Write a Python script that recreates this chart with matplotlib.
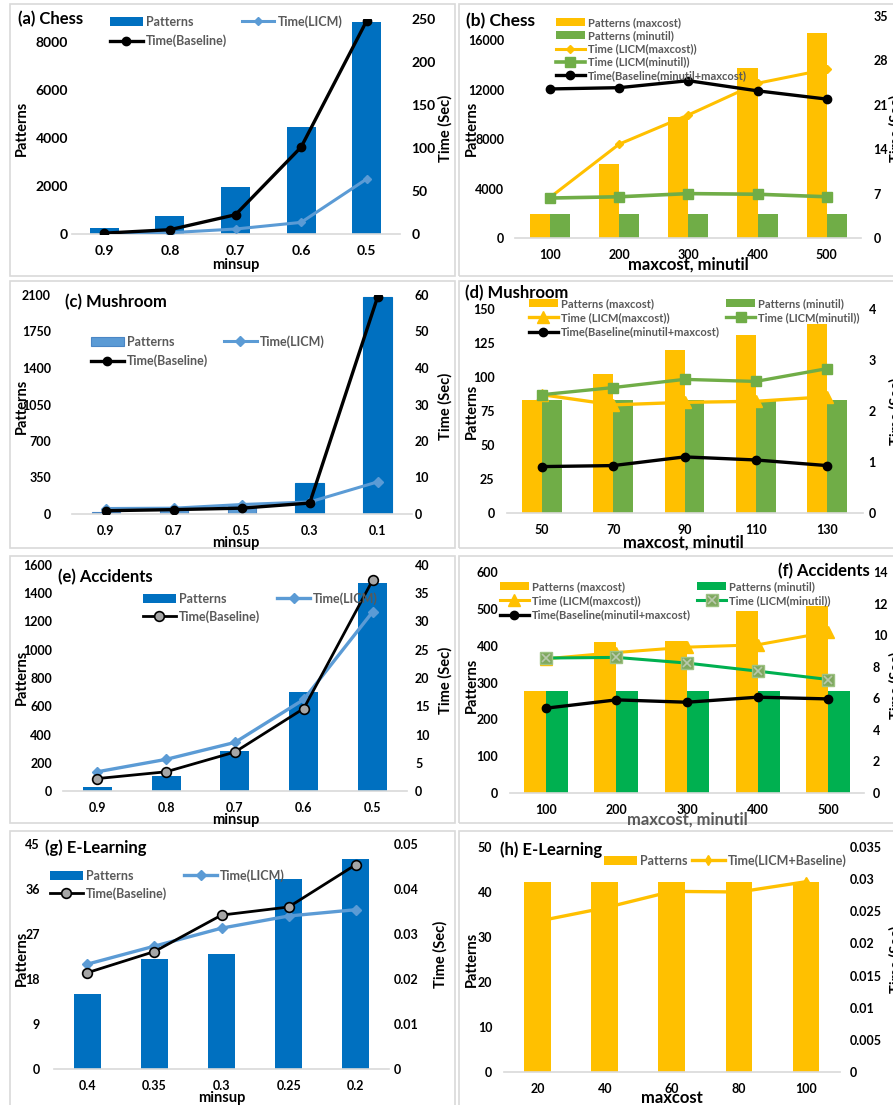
import matplotlib.pyplot as plt
from matplotlib.patches import Rectangle, Patch
from matplotlib.lines import Line2D
import numpy as np

W, H = 893, 1105
plt.rcParams['font.family'] = ['Lato', 'DejaVu Sans']
plt.rcParams['font.weight'] = 'bold'

BLUE = '#0070C0'
LBLUE = '#5B9BD5'
YEL = '#FFC000'
GRN = '#70AD47'
GRN2 = '#00B050'
GRAY = '#595959'

# --- data ---
# (a) Chess, minsup
x_a = ['0.9', '0.8', '0.7', '0.6', '0.5']
pat_a = [236, 750, 1972, 4486, 8861]
licm_a = [1.0, 1.5, 5.8, 13.5, 64]
base_a = [1.0, 5.0, 22.4, 101, 248]

# (b) Chess, maxcost/minutil
x_b = ['100', '200', '300', '400', '500']
pat_max_b = [1962, 5995, 9758, 13790, 16613]
pat_min_b = [1962, 1962, 1962, 1962, 1962]
licm_max_b = [6.4, 14.8, 19.4, 24.4, 26.6]
licm_min_b = [6.3, 6.5, 7.0, 6.9, 6.5]
base_b = [23.5, 23.7, 24.8, 23.2, 21.9]

# (c) Mushroom, minsup
x_c = ['0.9', '0.7', '0.5', '0.3', '0.1']
pat_c = [19, 42, 74, 298, 2084]
licm_c = [1.5, 1.6, 2.6, 3.3, 8.8]
base_c = [0.9, 1.2, 1.6, 3.0, 59.5]

# (d) Mushroom, maxcost/minutil
x_d = ['50', '70', '90', '110', '130']
pat_max_d = [83, 102, 120, 131, 139]
pat_min_d = [83, 83, 83, 83, 83]
licm_max_d = [2.32, 2.12, 2.17, 2.19, 2.28]
licm_min_d = [2.32, 2.46, 2.62, 2.58, 2.83]
base_d = [0.91, 0.93, 1.10, 1.04, 0.93]

# (e) Accidents, minsup
x_e = ['0.9', '0.8', '0.7', '0.6', '0.5']
pat_e = [31, 109, 282, 700, 1470]
licm_e = [3.4, 5.6, 8.6, 16.2, 31.7]
base_e = [2.2, 3.4, 6.9, 14.6, 37.3]

# (f) Accidents, maxcost/minutil
x_f = ['100', '200', '300', '400', '500']
pat_max_f = [278, 411, 414, 493, 509]
pat_min_f = [278, 278, 278, 278, 278]
licm_max_f = [8.5, 8.9, 9.24, 9.39, 10.2]
licm_min_f = [8.55, 8.59, 8.23, 7.72, 7.19]
base_f = [5.37, 5.9, 5.75, 6.07, 5.96]

# (g) E-Learning, minsup
x_g = ['0.4', '0.35', '0.3', '0.25', '0.2']
pat_g = [15.1, 22.1, 23.1, 38.1, 42.1]
licm_g = [0.0233, 0.0273, 0.0313, 0.0340, 0.0354]
base_g = [0.0214, 0.0261, 0.0342, 0.0360, 0.0454]

# (h) E-Learning, maxcost
x_h = ['20', '40', '60', '80', '100']
pat_h = [42.2, 42.2, 42.2, 42.2, 42.2]
time_h = [0.02345, 0.02553, 0.0281, 0.0280, 0.0296]

fig = plt.figure(figsize=(W / 100, H / 100), dpi=100)


def px(v):
    # pixels -> points
    return v * 0.72


def ftext(x, y, s, **kw):
    fig.text(x / W, 1 - y / H, s, **kw)


def box(x0, y0, x1, y1):
    fig.patches.append(Rectangle((x0 / W, 1 - y1 / H), (x1 - x0) / W, (y1 - y0) / H,
                                 transform=fig.transFigure, fill=False,
                                 ec='#d9d9d9', lw=1.2))


def panel(rect, xlabels, ylim, yticks, ylim2, yticks2, fs, lpad, rpad, fmt2=None):
    x0, x1, yt, yb = rect
    ax = fig.add_axes([x0 / W, 1 - yb / H, (x1 - x0) / W, (yb - yt) / H])
    ax2 = ax.twinx()
    for a in (ax, ax2):
        for s in a.spines.values():
            s.set_visible(False)
    ax.spines['bottom'].set_visible(True)
    ax.spines['bottom'].set_color('#d9d9d9')
    ax.spines['bottom'].set_linewidth(1.2)
    ax.set_xlim(-0.5, 4.5)
    ax.set_xticks(range(5))
    ax.set_xticklabels(xlabels)
    ax.set_ylim(*ylim)
    ax.set_yticks(yticks)
    ax2.set_ylim(*ylim2)
    ax2.set_yticks(yticks2)
    if fmt2:
        ax2.set_yticklabels([fmt2(v) for v in yticks2])
    ax.tick_params(axis='x', length=0, labelsize=fs, pad=px(11))
    ax.tick_params(axis='y', length=0, labelsize=fs, pad=px(lpad))
    ax2.tick_params(axis='y', length=0, labelsize=fs, pad=px(rpad))
    return ax, ax2


def legend(ax, handles, labels, x, y, ncol, fs, colsp=1.0, lsp=0.5):
    ax.legend(handles, labels, loc='upper left', bbox_to_anchor=(x / W, 1 - y / H),
              bbox_transform=fig.transFigure, ncol=ncol, frameon=False,
              borderpad=0, borderaxespad=0, handlelength=2.6, handletextpad=0.25,
              columnspacing=colsp, labelspacing=lsp, labelcolor=GRAY,
              prop={'size': fs, 'weight': 'bold'})


# panel borders
for (bx0, bx1) in [(10, 455), (459, 905)]:
    for (by0, by1) in [(4, 276), (281, 548), (556, 823), (831, 1110)]:
        box(bx0, by0, bx1, by1)

idx = np.arange(5)

# ---------------- (a) ----------------
ax, ax2 = panel((71.5, 399.5, 19, 234), x_a, (0, 8972), [0, 2000, 4000, 6000, 8000],
                (0, 250), [0, 50, 100, 150, 200, 250], 10, 3.5, 12)
b1 = ax.bar(idx, pat_a, 0.44, color=BLUE)
l1, = ax2.plot(idx, licm_a, color=LBLUE, lw=2.2, marker='D', ms=4)
l2, = ax2.plot(idx, base_a, color='black', lw=2.4, marker='o', ms=6)
legend(ax2, [b1, l2, l1], ['Patterns', 'Time(Baseline)', 'Time(LICM)'], 110, 15, 2, 9, 1.2, 0.55)
ftext(18, 19, '(a) Chess', fontsize=12, va='center')
ftext(22, 128, 'Patterns', fontsize=10.5, rotation=90, ha='center', va='center')
ftext(445, 128, 'Time (Sec)', fontsize=10.5, rotation=90, ha='center', va='center')
ftext(236, 265, 'minsup', fontsize=10.5, ha='center', va='center')

# ---------------- (b) ----------------
ax, ax2 = panel((515.4, 861.3, 16, 238), x_b, (0, 17960), [0, 4000, 8000, 12000, 16000],
                (0, 35), [0, 7, 14, 21, 28, 35], 9, 11, 12)
b1 = ax.bar(idx - 0.145, pat_max_b, 0.29, color=YEL)
b2 = ax.bar(idx + 0.145, pat_min_b, 0.29, color=GRN)
l1, = ax2.plot(idx, licm_max_b, color=YEL, lw=2.2, marker='D', ms=4)
l2, = ax2.plot(idx, licm_min_b, color=GRN, lw=2.6, marker='s', ms=7)
l3, = ax2.plot(idx, base_b, color='black', lw=2.4, marker='o', ms=6)
legend(ax2, [b1, b2, l1, l2, l3],
       ['Patterns (maxcost)', 'Patterns (minutil)', 'Time (LICM(maxcost))',
        'Time (LICM(minutil))', 'Time(Baseline(minutil+maxcost)'], 556, 17, 1, 8, 1.0, 0.2)
ftext(466, 21, '(b) Chess', fontsize=12.5, va='center')
ftext(472, 128, 'Patterns', fontsize=10.5, rotation=90, ha='center', va='center')
ftext(896, 128, 'Time (Sec)', fontsize=10.5, rotation=90, ha='center', va='center')
ftext(688, 265, 'maxcost, minutil', fontsize=12, ha='center', va='center')

# ---------------- (c) ----------------
ax, ax2 = panel((72, 411.6, 295, 514), x_c, (0, 2100), [0, 350, 700, 1050, 1400, 1750, 2100],
                (0, 60), [0, 10, 20, 30, 40, 50, 60], 9, 21, 3)
b1 = ax.bar(idx, pat_c, 0.42, color=[LBLUE, LBLUE, LBLUE, BLUE, BLUE],
            edgecolor=['#4a86c5', '#4a86c5', '#4a86c5', BLUE, BLUE], lw=0.8)
l1, = ax2.plot(idx, licm_c, color=LBLUE, lw=2.2, marker='D', ms=5)
l2, = ax2.plot(idx, base_c, color='black', lw=2.4, marker='o', ms=6)
legend(ax2, [b1, l2, l1], ['Patterns', 'Time(Baseline)', 'Time(LICM)'], 91, 335, 2, 9, 1.3, 0.55)
ftext(65, 302, '(c) Mushroom', fontsize=12, va='center')
ftext(22, 406, 'Patterns', fontsize=10.5, rotation=90, ha='center', va='center')
ftext(445, 406, 'Time (Sec)', fontsize=10.5, rotation=90, ha='center', va='center')
ftext(236, 543, 'minsup', fontsize=10.5, ha='center', va='center')

# ---------------- (d) ----------------
ax, ax2 = panel((506.5, 862.5, 309, 513), x_d, (0, 150), [0, 25, 50, 75, 100, 125, 150],
                (0, 4), [0, 1, 2, 3, 4], 9, 12, 6)
b1 = ax.bar(idx - 0.14, pat_max_d, 0.28, color=YEL)
b2 = ax.bar(idx + 0.14, pat_min_d, 0.28, color=GRN)
l1, = ax2.plot(idx, licm_max_d, color=YEL, lw=2.4, marker='^', ms=8)
l2, = ax2.plot(idx, licm_min_d, color=GRN, lw=2.4, marker='s', ms=7)
l3, = ax2.plot(idx, base_d, color='black', lw=2.4, marker='o', ms=6)
legend(ax2, [b1, l1, l3, b2, l2],
       ['Patterns (maxcost)', 'Time (LICM(maxcost))', 'Time(Baseline(minutil+maxcost)',
        'Patterns (minutil)', 'Time (LICM(minutil))'], 529, 298, 2, 8, 0.6, 0.3)
ftext(465, 293, '(d) Mushroom', fontsize=12, va='center')
ftext(472, 411, 'Patterns', fontsize=10.5, rotation=90, ha='center', va='center')
ftext(896, 411, 'Time (Sec)', fontsize=10.5, rotation=90, ha='center', va='center')
ftext(683, 543, 'maxcost, minutil', fontsize=12, ha='center', va='center')

# ---------------- (e) ----------------
ax, ax2 = panel((62.9, 407, 565, 791), x_e, (0, 1600), [0, 200, 400, 600, 800, 1000, 1200, 1400, 1600],
                (0, 40), [0, 5, 10, 15, 20, 25, 30, 35, 40], 9, 11, 8)
b1 = ax.bar(idx, pat_e, 0.42, color=BLUE)
l1, = ax2.plot(idx, licm_e, color=LBLUE, lw=2.4, marker='D', ms=5)
l2, = ax2.plot(idx, base_e, color='black', lw=2.0, marker='o', ms=7,
               mfc='#a6a6a6', mec='black', mew=1.2)
legend(ax2, [b1, l2, l1], ['Patterns', 'Time(Baseline)', 'Time(LICM)'], 143, 592, 2, 9, 1.4, 0.45)
ftext(58, 577, '(e) Accidents', fontsize=12, va='center')
ftext(22, 677, 'Patterns', fontsize=10.5, rotation=90, ha='center', va='center')
ftext(445, 680, 'Time (Sec)', fontsize=10.5, rotation=90, ha='center', va='center')
ftext(236, 820, 'minsup', fontsize=10.5, ha='center', va='center')

# ---------------- (f) ----------------
ax, ax2 = panel((510.3, 863.7, 572, 793), x_f, (0, 600), [0, 100, 200, 300, 400, 500, 600],
                (0, 14), [0, 2, 4, 6, 8, 10, 12, 14], 9, 12, 9)
b1 = ax.bar(idx - 0.155, pat_max_f, 0.31, color=YEL)
b2 = ax.bar(idx + 0.155, pat_min_f, 0.31, color=GRN2)
l1, = ax2.plot(idx, licm_max_f, color=YEL, lw=2.2, marker='^', ms=8)
l2, = ax2.plot(idx, licm_min_f, color=GRN2, lw=2.2, marker='s', ms=8,
               mfc='#7fa85f', mec='#9dc283')
l2x, = ax2.plot(idx, licm_min_f, ls='none', marker='x', ms=6, color='#b9c9ad', mew=1.2)
l3, = ax2.plot(idx, base_f, color='black', lw=2.4, marker='o', ms=6)
legend(ax2, [b1, l1, l3, b2, (l2, l2x)],
       ['Patterns (maxcost)', 'Time (LICM(maxcost))', 'Time(Baseline(minutil+maxcost)',
        'Patterns (minutil)', 'Time (LICM(minutil))'], 500, 581, 2, 8, 0.6, 0.3)
ftext(870, 571, '(f) Accidents', fontsize=12, ha='right', va='center')
ftext(472, 685, 'Patterns', fontsize=10.5, rotation=90, ha='center', va='center')
ftext(896, 685, 'Time (Sec)', fontsize=10.5, rotation=90, ha='center', va='center')
ftext(687, 820, 'maxcost, minutil', fontsize=12, ha='center', va='center', color=GRAY)

# ---------------- (g) ----------------
ax, ax2 = panel((53.8, 389.3, 844, 1069), x_g, (0, 45), [0, 9, 18, 27, 36, 45],
                (0, 0.05), [0, 0.01, 0.02, 0.03, 0.04, 0.05], 9, 14, 4,
                fmt2=lambda v: '0' if v == 0 else f'{v:g}')
b1 = ax.bar(idx, pat_g, 0.40, color=BLUE)
l1, = ax2.plot(idx, licm_g, color=LBLUE, lw=2.4, marker='D', ms=5)
l2, = ax2.plot(idx, base_g, color='black', lw=2.0, marker='o', ms=7,
               mfc='#a6a6a6', mec='black', mew=1.2)
legend(ax2, [b1, l2, l1], ['Patterns', 'Time(Baseline)', 'Time(LICM)'], 50, 869, 2, 9, 1.4, 0.45)
ftext(45, 848, '(g) E-Learning', fontsize=12, va='center')
ftext(22, 958, 'Patterns', fontsize=10.5, rotation=90, ha='center', va='center')
ftext(440, 954, 'Time (Sec)', fontsize=10.5, rotation=90, ha='center', va='center')
ftext(222, 1098, 'minsup', fontsize=10.5, ha='center', va='center')

# ---------------- (h) ----------------
ax, ax2 = panel((504.2, 839.6, 847, 1072), x_h, (0, 50), [0, 10, 20, 30, 40, 50],
                (0, 0.035), [0, 0.005, 0.01, 0.015, 0.02, 0.025, 0.03, 0.035], 9, 12, 10,
                fmt2=lambda v: '0' if v == 0 else f'{v:g}')
b1 = ax.bar(idx, pat_h, 0.40, color=YEL)
l1, = ax2.plot(idx, time_h, color=YEL, lw=2.4, marker='d', ms=5)
legend(ax2, [b1, l1], ['Patterns', 'Time(LICM+Baseline)'], 604, 854, 2, 9, 0.4, 0.4)
ftext(500, 850, '(h) E-Learning', fontsize=12, va='center')
ftext(472, 959, 'Patterns', fontsize=10.5, rotation=90, ha='center', va='center')
ftext(896, 959, 'Time (Sec)', fontsize=10.5, rotation=90, ha='center', va='center')
ftext(672, 1098, 'maxcost', fontsize=12, ha='center', va='center')

fig.savefig('out.png', dpi=100)
